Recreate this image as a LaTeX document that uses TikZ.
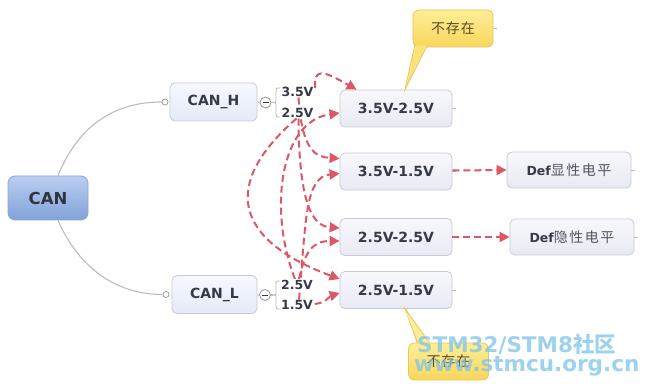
\documentclass[tikz,border=0pt]{standalone}
\usepackage{fontspec}
\setmainfont{DejaVu Sans}
\newfontfamily\cjk{Noto Sans CJK SC}
\usetikzlibrary{arrows.meta,calc}
\definecolor{txt}{RGB}{55,58,70}
\definecolor{boxtop}{RGB}{248,248,252}
\definecolor{boxbot}{RGB}{232,234,243}
\definecolor{boxbd}{RGB}{200,202,214}
\definecolor{htop}{RGB}{246,248,254}
\definecolor{hbot}{RGB}{228,234,248}
\definecolor{cantop}{RGB}{186,206,240}
\definecolor{canbot}{RGB}{130,162,218}
\definecolor{canbd}{RGB}{140,166,212}
\definecolor{arr}{RGB}{220,88,102}
\definecolor{gl}{RGB}{188,188,188}
\definecolor{ytop}{RGB}{254,238,150}
\definecolor{ybot}{RGB}{248,214,92}
\definecolor{ybd}{RGB}{232,198,95}
\definecolor{ytxt}{RGB}{90,75,45}
\definecolor{cjkc}{RGB}{85,85,95}
\definecolor{wm}{RGB}{125,195,234}
\tikzset{
  box/.style={draw=boxbd, rounded corners=5pt, top color=boxtop, bottom color=boxbot,
    line width=0.8pt, font=\fontsize{14}{16}\selectfont\bfseries, text=txt,
    minimum height=37pt, inner sep=0pt},
  hbox/.style={box, top color=htop, bottom color=hbot},
  canbox/.style={draw=canbd, rounded corners=7pt, top color=cantop, bottom color=canbot,
    line width=0.8pt, font=\fontsize{16.5}{18}\selectfont\bfseries, text=txt!90!black,
    minimum width=80pt, minimum height=44pt, inner sep=0pt},
  lbl/.style={font=\fontsize{12.5}{14}\selectfont\bfseries, text=txt, inner sep=0.6pt, fill=white},
  darr/.style={draw=arr, line width=2pt, dash pattern=on 7pt off 4pt,
    -{Triangle[length=10pt,width=10pt]}},
  gline/.style={draw=gl, line width=1.1pt},
  minusc/.style={circle, draw=gl!80!black, fill=white, line width=0.8pt, minimum size=11pt, inner sep=0pt},
  dotc/.style={circle, draw=gl!80!black, fill=white, line width=0.7pt, minimum size=6pt, inner sep=0pt},
  yshape/.style={draw=ybd, line width=0.8pt, top color=ytop, bottom color=ybot},
  ybox/.style={yshape, rounded corners=6pt, minimum width=80pt, minimum height=37pt,
    inner sep=0pt, text=ytxt, font=\cjk\fontsize{14}{16}\selectfont},
  wmark/.style={font=\fontsize{21.5}{23}\selectfont\bfseries, text=wm, text opacity=0.75, inner sep=0pt, anchor=west}
}
\begin{document}
\begin{tikzpicture}[x=1pt,y=-1pt]
\useasboundingbox[fill=white] (0,0) rectangle (648,390);

% main nodes
\node[canbox] (can) at (48,198) {CAN};
\node[hbox, minimum width=87pt, minimum height=38pt] (canh) at (213.5,102) {CAN\_H};
\node[hbox, minimum width=85pt, minimum height=38pt] (canl) at (214.5,294.5) {CAN\_L};
\node[dotc] (dh) at (165,102) {};
\node[dotc] (dl) at (166,294.5) {};
\node[minusc] (mh) at (265.5,102.5) {};
\node[minusc] (ml) at (265,295) {};
\draw[line width=0.9pt, draw=txt] ($(mh)+(-3,0)$) -- ($(mh)+(3,0)$);
\draw[line width=0.9pt, draw=txt] ($(ml)+(-3,0)$) -- ($(ml)+(3,0)$);

% gray connectors
\draw[gline] ($(can.north)+(10,0)$) .. controls (80,122) and (118,102) .. (dh.west);
\draw[gline] ($(can.south)+(10,0)$) .. controls (80,270) and (118,294.5) .. (dl.west);
\draw[gline] (canh.east) -- (mh.west);
\draw[gline] (canl.east) -- (ml.west);
\draw[gline] (mh.east) -- (273,102.5);
\draw[gline] (ml.east) -- (273,295);
\coordinate (bh) at (273,102.5);
\coordinate (bl) at (273,295);
\draw[gline, line width=0.9pt] (280,88) .. controls (276,88) .. (276,92) -- (276,99)
   .. controls (276,102.5) .. (bh) .. controls (276,102.5) .. (276,106) -- (276,113)
   .. controls (276,117) .. (280,117);
\draw[gline, line width=0.9pt] (280,281) .. controls (276,281) .. (276,285) -- (276,291.5)
   .. controls (276,295) .. (bl) .. controls (276,295) .. (276,298.5) -- (276,305)
   .. controls (276,309) .. (280,309);

% result boxes
\node[box, minimum width=112pt] (b1) at (396,108.5) {3.5V-2.5V};
\node[box, minimum width=112pt] (b2) at (396,171.5) {3.5V-1.5V};
\node[box, minimum width=112pt] (b3) at (396,237) {2.5V-2.5V};
\node[box, minimum width=112pt] (b4) at (396,290) {2.5V-1.5V};
\node[box, minimum width=124pt, minimum height=36pt, font=\fontsize{12.5}{14}\selectfont\bfseries] (d1) at (569,170)
  {Def{\cjk\mdseries\fontsize{14}{16}\selectfont\color{cjkc}显\hspace{1.5pt}性\hspace{1.5pt}电\hspace{1.5pt}平}};
\node[box, minimum width=124pt, minimum height=36pt, font=\fontsize{12.5}{14}\selectfont\bfseries] (d2) at (572,237)
  {Def{\cjk\mdseries\fontsize{14}{16}\selectfont\color{cjkc}隐\hspace{1.5pt}性\hspace{1.5pt}电\hspace{1.5pt}平}};
\foreach \n in {b1,b2,b3,b4,d1,d2} { \draw[gline, line width=0.7pt] (\n.east) -- ++(4,0); }

% level labels
\node[lbl] (h35) at (297.5,92) {3.5V};
\node[lbl] (h25) at (297.5,113) {2.5V};
\node[lbl] (l25) at (297,284.5) {2.5V};
\node[lbl] (l15) at (297,305) {1.5V};

% dashed arrows
\draw[darr] ($(h35.east)+(1,-4)$) .. controls (314,68) and (322,70) .. ($(b1.north west)+(17,0)$);
\draw[darr] ($(l25.north)+(-2,0)$) .. controls (268,210) and (280,121) .. ($(b1.west)+(0,4.5)$);
\draw[darr] ($(h35.south)+(1,0)$) .. controls (302,150) and (315,157) .. ($(b2.west)+(0,-13)$);
\draw[darr] ($(l15.north)+(2,0)$) .. controls (306,220) and (305,177) .. ($(b2.west)+(0,2)$);
\draw[darr] ($(h25.south)+(1,0)$) .. controls (299,200) and (311,226) .. ($(b3.west)+(0,-9)$);
\draw[darr] ($(l25.north)+(2,0)$) .. controls (305,252) and (312,241) .. ($(b3.west)+(0,4)$);
\draw[darr] ($(h25.south)+(-1,0)$) .. controls (220,185) and (235,240) .. ($(b4.west)+(0,-11)$);
\draw[darr] ($(l15.east)+(1,-1)$) .. controls (326,303) and (330,296) .. ($(b4.west)+(0,3)$);
\draw[darr] ($(b2.east)+(0,-1)$) -- (d1.west);
\draw[darr] (b3.east) -- (d2.west);

% redraw labels on top
\node[lbl] at (h35) {3.5V};
\node[lbl] at (h25) {2.5V};
\node[lbl] at (l25) {2.5V};
\node[lbl] at (l15) {1.5V};

% callouts
\coordinate (t1) at (405,89.5);
\coordinate (t2) at (405,308.5);
\draw[yshape] (415,44) -- (t1) -- (428,44) -- cycle;
\node[ybox] (c1) at (453,28.5) {不\hspace{1pt}存\hspace{1pt}在};
\fill[ytop!50!ybot] (416.2,45.5) -- (406,85) -- (426.8,45.5) -- cycle;
\draw[gline, line width=0.7pt] (c1.east) -- ++(4,0);
\draw[yshape] (418,345) -- (t2) -- (431,345) -- cycle;
\node[ybox] (c2) at (448.5,361.5) {不\hspace{1pt}存\hspace{1pt}在};
\fill[ytop] (419.2,344) -- (406,312) -- (429.8,344) -- cycle;

% watermark
\node[wmark] (wm1) at (417,344.5) {STM32/STM8{\cjk\bfseries 社区}};
\node[wmark] (wm2) at (414,366.5) {www.stmcu.org.cn};
\end{tikzpicture}
\end{document}
